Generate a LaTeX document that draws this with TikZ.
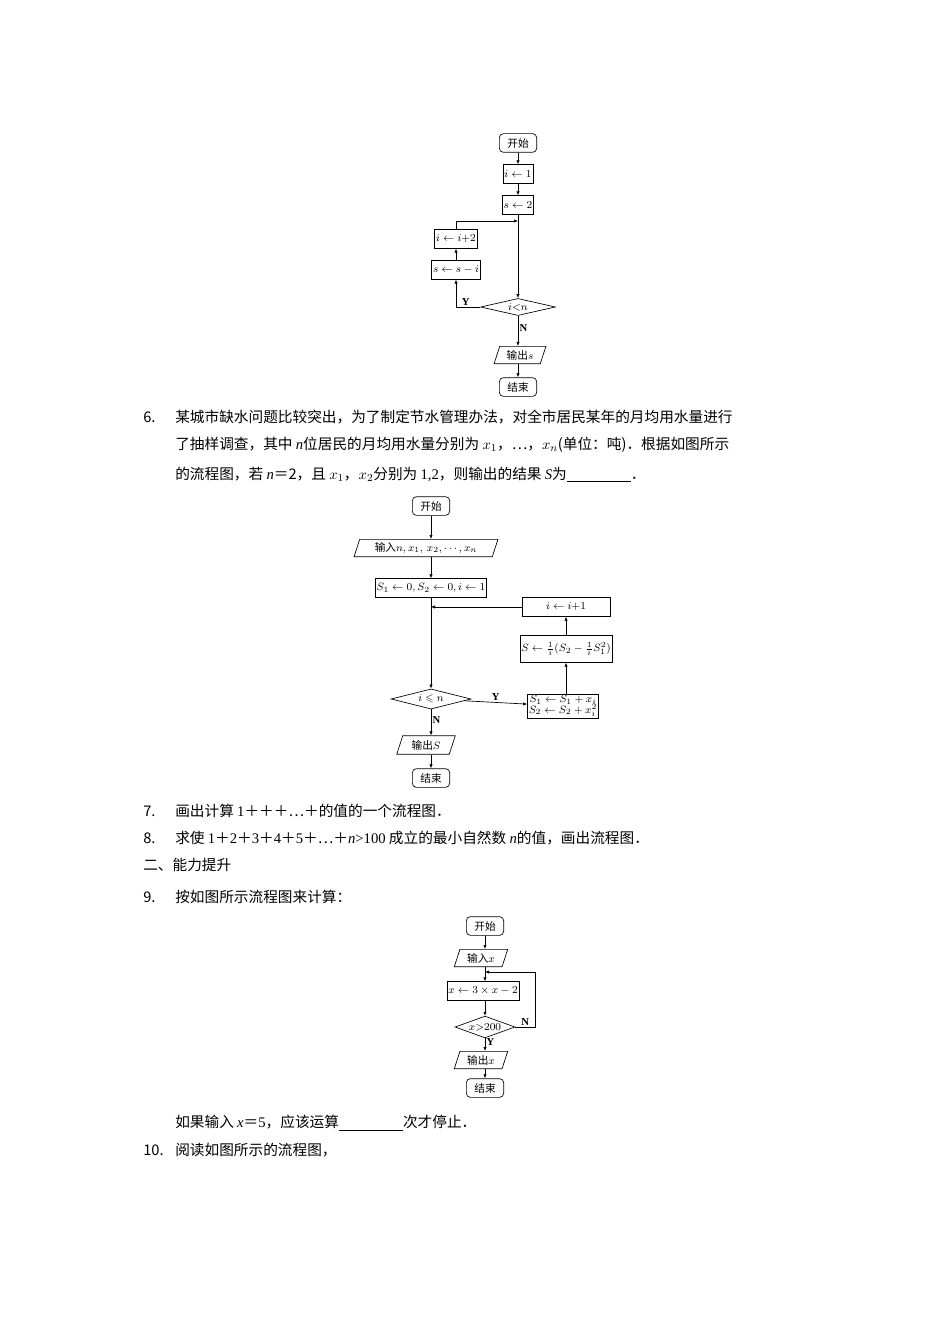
\documentclass[tikz,border=0pt]{standalone}
\usepackage{amssymb}
\usepackage{fontspec}
\setmainfont{Liberation Serif}
\newfontfamily\cjk{Noto Sans CJK SC}
\usetikzlibrary{shapes.geometric,arrows.meta}
\begin{document}
\begin{tikzpicture}[x=0.75pt,y=-0.75pt,
 every node/.style={inner sep=1pt},
 term/.style={draw,rounded corners=3pt,minimum width=28pt,minimum height=14pt,font=\cjk\fontsize{8}{9}\selectfont,line width=0.5pt},
 proc/.style={draw,minimum height=14pt,font=\fontsize{8}{9}\selectfont\bfseries,line width=0.5pt},
 io/.style={draw,trapezium,trapezium left angle=72,trapezium right angle=108,minimum height=13pt,font=\fontsize{8}{9}\selectfont\bfseries,line width=0.5pt},
 dec/.style={draw,diamond,aspect=2.6,inner sep=0.5pt,font=\fontsize{8}{9}\selectfont\bfseries,line width=0.5pt},
 ar/.style={-{Latex[length=3pt,width=2.5pt]},line width=0.5pt},
 ln/.style={line width=0.5pt},
 lab/.style={font=\fontsize{8}{9}\selectfont\bfseries},
 txt/.style={anchor=west,font=\cjk\fontsize{11}{13}\selectfont,inner sep=0pt}]
\useasboundingbox (0,0) rectangle (950,1344);
% chart 1
\node[term] (a1) at (518,143) {开始};
\node[proc,minimum width=22pt] (a2) at (518,174) {$i\leftarrow1$};
\node[proc,minimum width=22pt] (a3) at (518,205) {$s\leftarrow2$};
\coordinate (aj) at (518,221);
\node[proc,minimum width=32pt] (a4) at (456,239) {$i\leftarrow i{+}2$};
\node[proc,minimum width=32pt] (a5) at (456,270) {$s\leftarrow s-i$};
\node[dec,minimum width=56pt] (a6) at (518,307) {$i{<}n$};
\node[io,minimum width=34pt] (a7) at (520,355) {{\cjk\mdseries 输出}$s$};
\node[term] (a8) at (518,387) {结束};
\draw[ar] (a1)--(a2); \draw[ar] (a2)--(a3); \draw[ar] (a3)--(a6);
\draw[ar] (a6.west) -| node[lab,pos=0.3,above]{Y} (a5);
\draw[ar] (a5)--(a4);
\draw[ar] (a4.north) |- (aj);
\draw[ar] (a6)-- node[lab,right,pos=0.4]{N} (a7.north -| a6);
\draw[ar] (a7.south -| a8)--(a8);
% text 6
\node[txt] at (143,417) {6.};
\node[txt] (t1) at (175,417) {某城市缺水问题比较突出，为了制定节水管理办法，对全市居民某年的月均用水量进行};
\node[txt] (t2) at (175,445) {了抽样调查，其中 {\rmfamily\itshape n}位居民的月均用水量分别为 $x_1$，…，$x_n$(单位：吨)．根据如图所示};
\node[txt] (t3) at (175,475) {的流程图，若 {\rmfamily\itshape n}＝2，且 $x_1$，$x_2$分别为 {\rmfamily 1,2}，则输出的结果 {\rmfamily\itshape S}为\underline{\hspace{48pt}}．};
% chart 2
\node[term] (b1) at (431,506) {开始};
\node[io,minimum width=100pt] (b2) at (426,548) {{\cjk\mdseries 输入}$n,x_1,\,x_2,\cdots,x_n$};
\node[proc,minimum width=69pt] (b3) at (431,588) {$S_1\leftarrow0,S_2\leftarrow0,i\leftarrow1$};
\coordinate (bj) at (431,607);
\node[dec,minimum width=60pt] (b4) at (431,699) {$i\leqslant n$};
\node[proc,minimum width=46pt,align=center,inner sep=1pt] (b5) at (563,706) {$S_1\leftarrow S_1+x_i$\\[-1pt]$S_2\leftarrow S_2+x_i^2$};
\node[proc,minimum width=66pt,minimum height=20pt] (b6) at (566,649) {$S\leftarrow\frac{1}{i}(S_2-\frac{1}{i}S_1^2)$};
\node[proc,minimum width=66pt] (b7) at (566,607) {$i\leftarrow i{+}1$};
\node[io,minimum width=44pt] (b8) at (426,745) {{\cjk\mdseries 输出}$S$};
\node[term] (b9) at (431,778) {结束};
\draw[ar] (b1)--(b2.north -| b1); \draw[ar] (b2.south -| b1)--(b3); \draw[ar] (b3)--(b4);
\draw[ar] (b4)-- node[lab,above]{Y} (b5);
\draw[ar] (b5.north -| b6)--(b6); \draw[ar] (b6)--(b7); \draw[ar] (b7)--(bj);
\draw[ar] (b4)-- node[lab,right,pos=0.4]{N} (b8.north -| b4);
\draw[ar] (b8.south -| b9)--(b9);
% text 7-9
\node[txt] at (143,811) {7.};
\node[txt] at (175,811) {画出计算 {\rmfamily 1}＋＋＋…＋的值的一个流程图．};
\node[txt] at (143,838) {8.};
\node[txt] at (175,838) {求使 {\rmfamily 1}＋{\rmfamily 2}＋{\rmfamily 3}＋{\rmfamily 4}＋{\rmfamily 5}＋…＋{\rmfamily\itshape n}{\rmfamily >100} 成立的最小自然数 {\rmfamily\itshape n}的值，画出流程图．};
\node[txt] at (143,865) {二、能力提升};
\node[txt] at (143,897) {9.};
\node[txt] at (175,897) {按如图所示流程图来计算：};
% chart 3
\node[term] (c1) at (485,926) {开始};
\node[io,minimum width=36pt] (c2) at (481,958) {{\cjk\mdseries 输入}$x$};
\coordinate (cj) at (485,972);
\node[proc,minimum width=44pt] (c3) at (483,991) {$x\leftarrow3\times x-2$};
\node[dec,minimum width=45pt] (c4) at (485,1027) {$x{>}200$};
\node[io,minimum width=36pt] (c5) at (481,1060) {{\cjk\mdseries 输出}$x$};
\node[term] (c6) at (485,1088) {结束};
\draw[ar] (c1)--(c2.north -| c1); \draw[ar] (c2.south -| c1)--(c3.north -| c1);
\draw[ar] (c3.south -| c4)--(c4);
\draw[ar] (c4.east) -- node[lab,above]{N} (535,1027) |- (cj);
\draw[ar] (c4)-- node[lab,right,pos=0.3]{Y} (c5.north -| c4);
\draw[ar] (c5.south -| c6)--(c6);
\node[txt] at (175,1123) {如果输入 {\rmfamily\itshape x}＝{\rmfamily 5}，应该运算\underline{\hspace{48pt}}次才停止．};
\node[txt] at (143,1150) {10.};
\node[txt] at (175,1150) {阅读如图所示的流程图，};
\end{tikzpicture}
\end{document}
